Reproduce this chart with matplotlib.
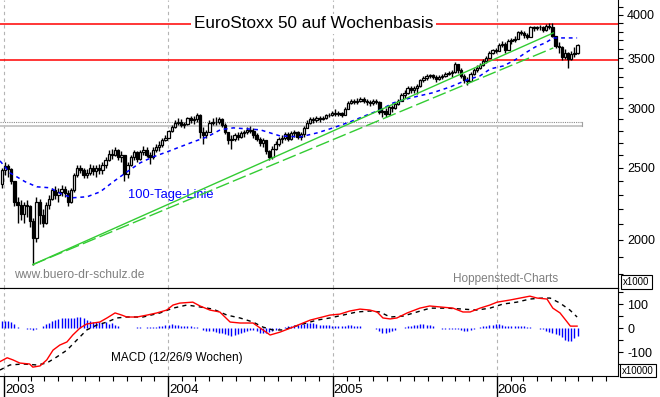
import numpy as np
import pandas as pd
import matplotlib
matplotlib.use('Agg')
import matplotlib.pyplot as plt
import matplotlib.dates as mdates
import matplotlib.transforms as mtransforms
from matplotlib.ticker import FixedLocator, FixedFormatter, NullFormatter

plt.rcParams['font.family'] = ['Liberation Sans', 'DejaVu Sans']

# ---------------------------------------------------------------
# weekly candles (one per friday)
first_week = '2002-12-27'
first_open = 2380
close = [2480, 2510, 2490, 2400, 2250, 2230, 2170, 2230, 2220, 2120,
         2010, 2250, 2160, 2110, 2230, 2270, 2330, 2300, 2320, 2340,
         2310, 2250, 2330, 2440, 2500, 2480, 2440, 2460, 2500, 2470,
         2500, 2480, 2520, 2560, 2610, 2600, 2640, 2580, 2600, 2450,
         2520, 2580, 2620, 2570, 2620, 2640, 2600, 2580, 2640, 2660,
         2680, 2720, 2740, 2800, 2830, 2870, 2880, 2850, 2860, 2910,
         2890, 2900, 2940, 2790, 2760, 2790, 2870, 2880, 2880, 2900,
         2850, 2790, 2720, 2730, 2760, 2750, 2780, 2790, 2810, 2800,
         2760, 2730, 2700, 2720, 2630, 2580, 2650, 2690, 2730, 2740,
         2770, 2730, 2780, 2790, 2750, 2770, 2820, 2870, 2900, 2890,
         2910, 2900, 2910, 2940, 2940, 2960, 2950, 2960, 2940, 2990,
         3050, 3070, 3060, 3070, 3090, 3070, 3060, 3050, 3070, 3060,
         2970, 2980, 2950, 3010, 3000, 3040, 3070, 3130, 3150, 3190,
         3170, 3190, 3210, 3270, 3290, 3310, 3320, 3300, 3280, 3300,
         3310, 3340, 3350, 3360, 3440, 3380, 3310, 3270, 3260, 3340,
         3380, 3400, 3430, 3470, 3500, 3560, 3590, 3580, 3650, 3660,
         3590, 3690, 3700, 3720, 3790, 3780, 3760, 3740, 3850, 3840,
         3850, 3860, 3820, 3870, 3860, 3750, 3640, 3620, 3510, 3560,
         3490, 3550, 3560, 3650]
high = [2500, 2540, 2530, 2500, 2400, 2280, 2260, 2250, 2260, 2230,
        2140, 2280, 2270, 2200, 2250, 2300, 2350, 2360, 2350, 2370,
        2360, 2330, 2350, 2460, 2520, 2520, 2500, 2490, 2530, 2520,
        2520, 2530, 2540, 2580, 2640, 2650, 2660, 2650, 2630, 2600,
        2540, 2600, 2640, 2630, 2640, 2670, 2660, 2620, 2660, 2690,
        2710, 2740, 2760, 2810, 2850, 2890, 2910, 2900, 2880, 2920,
        2930, 2930, 2960, 2950, 2830, 2810, 2890, 2910, 2920, 2920,
        2910, 2870, 2790, 2760, 2780, 2790, 2800, 2810, 2830, 2840,
        2820, 2780, 2750, 2740, 2720, 2640, 2670, 2710, 2750, 2760,
        2790, 2790, 2800, 2810, 2800, 2790, 2840, 2890, 2920, 2920,
        2930, 2930, 2930, 2950, 2960, 2980, 2990, 2980, 2970, 3010,
        3070, 3090, 3090, 3100, 3110, 3110, 3090, 3080, 3090, 3090,
        3070, 3000, 3000, 3030, 3030, 3060, 3090, 3150, 3170, 3210,
        3210, 3210, 3230, 3280, 3310, 3330, 3340, 3340, 3320, 3320,
        3330, 3360, 3370, 3380, 3460, 3440, 3400, 3330, 3300, 3360,
        3400, 3430, 3450, 3490, 3520, 3580, 3600, 3610, 3670, 3690,
        3680, 3710, 3730, 3750, 3810, 3820, 3810, 3780, 3870, 3870,
        3870, 3880, 3870, 3890, 3900, 3900, 3750, 3680, 3640, 3600,
        3570, 3580, 3620, 3660]
low = [2350, 2440, 2430, 2380, 2220, 2110, 2130, 2110, 2150, 2080,
       1850, 1990, 2100, 2080, 2100, 2200, 2260, 2270, 2250, 2290,
       2280, 2220, 2240, 2320, 2430, 2460, 2420, 2420, 2440, 2440,
       2430, 2450, 2450, 2500, 2550, 2570, 2590, 2560, 2540, 2400,
       2420, 2510, 2560, 2540, 2560, 2600, 2580, 2530, 2570, 2620,
       2630, 2660, 2710, 2740, 2790, 2820, 2850, 2830, 2820, 2850,
       2870, 2860, 2880, 2740, 2690, 2740, 2790, 2850, 2850, 2860,
       2830, 2770, 2690, 2650, 2710, 2720, 2740, 2750, 2770, 2780,
       2740, 2710, 2670, 2660, 2610, 2560, 2570, 2640, 2670, 2700,
       2720, 2710, 2720, 2750, 2730, 2720, 2750, 2820, 2860, 2870,
       2880, 2880, 2890, 2900, 2920, 2930, 2930, 2930, 2920, 2940,
       2990, 3040, 3040, 3040, 3060, 3050, 3030, 3020, 3030, 3040,
       2950, 2920, 2920, 2940, 2970, 2990, 3030, 3070, 3100, 3140,
       3150, 3150, 3140, 3200, 3250, 3270, 3290, 3280, 3250, 3270,
       3280, 3300, 3320, 3300, 3350, 3350, 3290, 3240, 3220, 3260,
       3320, 3360, 3390, 3420, 3450, 3500, 3550, 3560, 3580, 3620,
       3560, 3590, 3660, 3680, 3720, 3760, 3730, 3710, 3740, 3810,
       3820, 3820, 3800, 3810, 3830, 3740, 3610, 3560, 3480, 3490,
       3400, 3480, 3510, 3550]

# 100-Tage-Linie
ma_dates = ['2002-12-23', '2003-01-14', '2003-02-17', '2003-03-15', '2003-04-13',
            '2003-05-12', '2003-06-04', '2003-07-05', '2003-08-03', '2003-09-01',
            '2003-10-02', '2003-10-31', '2003-11-29', '2003-12-30', '2004-01-28',
            '2004-02-26', '2004-03-28', '2004-04-26', '2004-05-25', '2004-07-24',
            '2004-09-06', '2004-10-21', '2004-11-28', '2005-01-02', '2005-02-09',
            '2005-03-19', '2005-04-17', '2005-05-16', '2005-06-23', '2005-08-11',
            '2005-09-20', '2005-10-27', '2005-11-25', '2005-12-18', '2006-01-16',
            '2006-02-11', '2006-03-06', '2006-03-28', '2006-04-19', '2006-05-07',
            '2006-06-29']
ma_vals = [2552, 2460, 2393, 2356, 2349, 2299, 2278, 2285, 2320, 2393,
           2468, 2537, 2584, 2624, 2665, 2706, 2748, 2808, 2825, 2808,
           2756, 2748, 2782, 2825, 2878, 2940, 2986, 3051, 3098, 3147,
           3205, 3275, 3316, 3388, 3419, 3483, 3559, 3625, 3670, 3727,
           3727]

# trend lines from the march 2003 low
trend_dates = ['2003-03-06', '2006-05-07']
trend_solid = [1854, 3785]
trend_dashed = [1854, 3614]

red_levels = [3891, 3480]
band_top, band_bottom = 2879, 2843
band_end = '2006-07-10'

# MACD (12/26/9 Wochen)
macd_dates = ['2002-12-23', '2003-01-08', '2003-01-21', '2003-02-05', '2003-02-27',
              '2003-03-06', '2003-03-22', '2003-04-06', '2003-04-20', '2003-05-05',
              '2003-05-21', '2003-06-03', '2003-06-19', '2003-07-04', '2003-07-18',
              '2003-08-02', '2003-08-18', '2003-09-05', '2003-09-20', '2003-10-01',
              '2003-10-24', '2003-11-15', '2003-12-07', '2003-12-29', '2004-01-12',
              '2004-01-27', '2004-02-25', '2004-03-12', '2004-04-03', '2004-04-25',
              '2004-05-18', '2004-06-09', '2004-07-08', '2004-07-30', '2004-08-15',
              '2004-09-06', '2004-10-05', '2004-11-12', '2004-12-26', '2005-01-17',
              '2005-02-08', '2005-03-03', '2005-03-25', '2005-04-10', '2005-04-23',
              '2005-05-09', '2005-05-24', '2005-06-16', '2005-07-14', '2005-08-05',
              '2005-08-28', '2005-09-26', '2005-10-18', '2005-11-03', '2005-11-25',
              '2005-12-17', '2006-01-02', '2006-01-31', '2006-02-22', '2006-03-16',
              '2006-04-01', '2006-04-23', '2006-05-06', '2006-05-22', '2006-06-07',
              '2006-06-14', '2006-06-29']
macd_vals = [-140, -124, -133, -146, -150, -163, -158, -133, -92, -71,
             -58, -29, 0, 17, 21, 25, 42, 63, 54, 46,
             46, 54, 63, 75, 96, 104, 108, 92, 75, 67,
             25, 21, 21, -8, -29, -17, 4, 33, 54, 58,
             71, 79, 75, 67, 42, 38, 42, 63, 83, 92,
             88, 83, 67, 67, 83, 96, 108, 117, 125, 133,
             125, 121, 83, 63, 25, 8, 8]
signal_dates = ['2002-12-23', '2003-01-14', '2003-02-12', '2003-03-15', '2003-04-06',
                '2003-04-28', '2003-05-21', '2003-06-12', '2003-07-04', '2003-07-27',
                '2003-08-18', '2003-09-09', '2003-10-01', '2003-11-06', '2003-12-14',
                '2004-01-12', '2004-02-12', '2004-03-12', '2004-04-10', '2004-05-11',
                '2004-06-09', '2004-07-08', '2004-07-30', '2004-08-21', '2004-09-13',
                '2004-10-20', '2004-11-27', '2004-12-26', '2005-01-24', '2005-02-24',
                '2005-03-25', '2005-04-16', '2005-05-09', '2005-06-07', '2005-07-08',
                '2005-08-06', '2005-09-12', '2005-10-18', '2005-11-18', '2005-12-17',
                '2006-01-15', '2006-02-15', '2006-03-16', '2006-04-14', '2006-04-30',
                '2006-05-22', '2006-06-13', '2006-06-29']
signal_vals = [-175, -154, -150, -154, -146, -121, -92, -50, -8, 13,
               25, 42, 46, 46, 63, 83, 96, 88, 79, 54,
               42, 25, 4, -8, -8, 13, 33, 42, 54, 67,
               71, 67, 46, 50, 67, 83, 83, 79, 75, 83,
               100, 108, 121, 125, 125, 104, 75, 46]
# histogram, one bar per candle
hist_vals = [28, 28, 28, 24, 16, 4, 2, 2, -2, -6,
             -8, -4, 2, 8, 16, 20, 28, 32, 36, 40,
             40, 40, 40, 40, 44, 44, 40, 32, 28, 24,
             24, 24, 20, 24, 16, 20, 12, 8, 2, 2,
             2, 2, 2, 4, 4, 2, 4, 4, 4, 4,
             8, 8, 12, 12, 16, 12, 12, 8, 8, 8,
             8, 4, 4, 2, -8, -12, -12, -12, -16, -20,
             -20, -24, -28, -32, -28, -24, -20, -16, -12, -8,
             -8, -12, -20, -20, -20, -16, -12, -8, -4, 2,
             4, 8, 8, 12, 12, 16, 16, 20, 20, 20,
             16, 12, 12, 12, 12, 8, 8, 8, 8, 8,
             12, 12, 8, 8, 8, 2, 2, 2, 2, -4,
             -12, -20, -20, -16, -12, -8, 2, 2, 4, 8,
             8, 12, 12, 16, 16, 12, 12, 8, 2, 2,
             -2, -2, -2, -2, -4, -4, -8, -12, -12, -8,
             -4, 2, 4, 8, 8, 12, 12, 16, 16, 12,
             8, 8, 8, 8, 8, 8, 8, 4, 4, 2,
             2, -2, -4, -12, -16, -20, -24, -28, -36, -48,
             -56, -52, -40, -32]

years = ['2003', '2004', '2005', '2006']
price_labels = [2000, 2500, 3000, 3500, 4000]
macd_labels = [100, 0, -100]
# ---------------------------------------------------------------

W, H = 660.0, 397.0
fig = plt.figure(figsize=(W / 100, H / 100), dpi=100)
ax = fig.add_axes([0, 1 - 288 / H, 618 / W, 288 / H])
ax2 = fig.add_axes([0, 1 - 376 / H, 618 / W, 88 / H])

xleft = mdates.date2num(pd.Timestamp('2002-12-23'))
xright = mdates.date2num(pd.Timestamp('2006-09-28'))

weeks = pd.date_range(first_week, periods=len(close), freq='7D')
xw = mdates.date2num(weeks)
c = np.array(close, dtype=float)
o = np.r_[first_open, c[:-1]]
hi = np.array(high, dtype=float)
lo = np.array(low, dtype=float)

def dnum(lst):
    return mdates.date2num(pd.to_datetime(lst))

# ---- price panel
ax.set_yscale('log')
for y in years:
    ax.axvline(dnum([y + '-01-01'])[0], color='#b4b4b4', ls=(0, (3, 3)), lw=0.8, zorder=1)
for lev in red_levels:
    ax.axhline(lev, color='#ff0000', lw=1.1, zorder=2)

xb = dnum([band_end])[0]
ax.plot([xleft, xb], [band_top, band_top], color='#8c8c8c', ls=(0, (1, 1)), lw=0.8, zorder=2)
ax.plot([xleft, xb], [band_bottom, band_bottom], color='#c4c4c4', lw=1.3, zorder=2)
ax.plot([xb, xb], [band_bottom, band_top], color='#a0a0a0', lw=0.8, zorder=2)

ax.vlines(xw, lo, hi, color='black', lw=1.0, zorder=3)
up = c >= o
ax.bar(xw, np.abs(c - o), bottom=np.minimum(o, c), width=5.2,
       color=np.where(up, 'white', 'black'), edgecolor='black', lw=0.9, zorder=4)

ax.plot(dnum(ma_dates), ma_vals, color='#0000ff', ls=(0, (2.5, 2.5)), lw=1.1, zorder=5)
ax.plot(dnum(trend_dates), trend_solid, color='#33cc33', lw=1.0, zorder=5)
ax.plot(dnum(trend_dates), trend_dashed, color='#33cc33', ls=(0, (10, 3)), lw=1.0, zorder=5)

ax.set_xlim(xleft, xright)
ax.set_ylim(1725, 4189)
ax.yaxis.tick_right()
ax.yaxis.set_major_locator(FixedLocator(price_labels))
ax.yaxis.set_major_formatter(FixedFormatter([str(v) for v in price_labels]))
ax.yaxis.set_minor_locator(FixedLocator(np.arange(1800, 4200, 100)))
ax.yaxis.set_minor_formatter(NullFormatter())
ax.tick_params(axis='y', which='both', direction='out', length=3.6, width=0.8,
               labelsize=9, pad=3)
ax.tick_params(axis='x', which='both', bottom=False, labelbottom=False)
ax.spines['left'].set_visible(False)
ax.spines['top'].set_visible(False)

ax.text(313.5 / 618, 1 - 24 / 288, 'EuroStoxx 50 auf Wochenbasis', transform=ax.transAxes,
        ha='center', va='center', fontsize=12.3,
        bbox=dict(fc='white', ec='none', pad=2), zorder=6)
ax.text(171 / 618, 1 - 195 / 288, '100-Tage-Linie', transform=ax.transAxes,
        ha='center', va='center', fontsize=9.3, color='#0000ff')
ax.text(14 / 618, 1 - 275 / 288, 'www.buero-dr-schulz.de', transform=ax.transAxes,
        ha='left', va='center', fontsize=8.7, color='#808080')
ax.text(506 / 618, 1 - 279 / 288, 'Hoppenstedt-Charts', transform=ax.transAxes,
        ha='center', va='center', fontsize=8.5, color='#808080')

# ---- MACD panel
for y in years:
    ax2.axvline(dnum([y + '-01-01'])[0], color='#b4b4b4', ls=(0, (3, 3)), lw=0.8, zorder=1)
ax2.vlines(xw, 0, hist_vals, color='#0000ff', lw=1.0, zorder=2)
ax2.plot(dnum(signal_dates), signal_vals, color='black', ls=(0, (3, 3)), lw=1.0, zorder=3)
ax2.plot(dnum(macd_dates), macd_vals, color='#ff0000', lw=1.0, zorder=4)

ax2.set_xlim(xleft, xright)
ax2.set_ylim(-200, 167)
ax2.yaxis.tick_right()
ax2.yaxis.set_major_locator(FixedLocator(macd_labels))
ax2.yaxis.set_major_formatter(FixedFormatter([str(v) for v in macd_labels]))
ax2.yaxis.set_minor_locator(FixedLocator([150, 50, -50, -150]))
ax2.tick_params(axis='y', which='both', direction='out', length=3.6, width=0.8,
                labelsize=9, pad=3)
ax2.xaxis.set_major_locator(mdates.YearLocator())
ax2.xaxis.set_minor_locator(mdates.MonthLocator())
ax2.tick_params(axis='x', which='major', direction='out', length=15, width=1.0,
                labelbottom=False)
ax2.tick_params(axis='x', which='minor', direction='out', length=3.6, width=0.8)
ax2.spines['left'].set_visible(False)

trans = mtransforms.blended_transform_factory(ax2.transData, ax2.transAxes)
for y in years:
    ax2.text(dnum([y + '-01-01'])[0] + 2.5, -0.16, y, transform=trans,
             ha='left', va='center', fontsize=9.5)
ax2.text(177 / 618, (376 - 358) / 88, 'MACD (12/26/9 Wochen)', transform=ax2.transAxes,
         ha='center', va='center', fontsize=8.5)

box = dict(boxstyle='square,pad=0.2', fc='white', ec='black', lw=0.8)
fig.text(636.5 / W, 1 - 282 / H, 'x1000', ha='center', va='center', fontsize=7, bbox=box)
fig.text(638 / W, 1 - 370.5 / H, 'x10000', ha='center', va='center', fontsize=7, bbox=box)

fig.savefig('out.png', dpi=100)
